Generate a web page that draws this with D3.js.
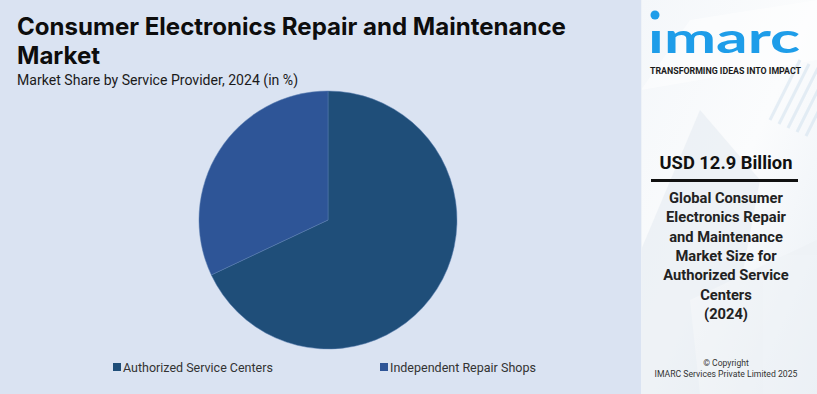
<!DOCTYPE html>
<html>
<head>
<meta charset="utf-8">
<script src="https://cdn.jsdelivr.net/npm/d3@7"></script>
<style>
html,body{margin:0;padding:0;background:#fff;}
svg{display:block;}
</style>
</head>
<body>
<svg id="chart" width="817" height="394"></svg>
<script>
const categories = ["Authorized Service Centers", "Independent Repair Shops"];
const values = [68, 32];
const colors = ["#1f4e79", "#2e5597"];
const titleLines = ["Consumer Electronics Repair and Maintenance", "Market"];
const subtitle = "Market Share by Service Provider, 2024 (in %)";
const panelValue = "USD 12.9 Billion";
const panelLines = ["Global Consumer", "Electronics Repair", "and Maintenance", "Market Size for", "Authorized Service", "Centers", "(2024)"];

const svg = d3.select("#chart");
const W = 817, H = 394;

// fit helper: scale font size so that a text reaches a target width
function fit(sel, target) {
  const node = sel.node();
  const fs = parseFloat(sel.attr("font-size"));
  const w = node.getComputedTextLength();
  if (w > 0) sel.attr("font-size", (fs * target / w).toFixed(2));
  return sel;
}

// main background
svg.append("rect").attr("x", 0).attr("y", 0).attr("width", 641).attr("height", H).attr("fill", "#dae3f2");

// right panel
const defs = svg.append("defs");
const g1 = defs.append("linearGradient").attr("id", "pg").attr("x1", "0").attr("y1", "0").attr("x2", "1").attr("y2", "1");
g1.append("stop").attr("offset", "0").attr("stop-color", "#f4f7fa");
g1.append("stop").attr("offset", "0.5").attr("stop-color", "#fbfcfd");
g1.append("stop").attr("offset", "1").attr("stop-color", "#e9eff5");
svg.append("rect").attr("x", 641).attr("y", 0).attr("width", W - 641).attr("height", H).attr("fill", "url(#pg)");
const deco = svg.append("g").attr("opacity", 0.5);
deco.append("path").attr("d", "M641,90 L690,20 L817,0 L817,60 Z").attr("fill", "#ffffff");
deco.append("path").attr("d", "M641,250 L700,110 L760,180 L720,394 L641,394 Z").attr("fill", "#e3eaf1");
deco.append("path").attr("d", "M690,300 L817,240 L817,394 L700,394 Z").attr("fill", "#edf1f5");
[0,1,2,3,4].forEach(i => {
  deco.append("line").attr("x1", 770 + i * 9).attr("y1", 120 + i * 4).attr("x2", 800 + i * 9).attr("y2", 60 + i * 4)
    .attr("stroke", "#cfe0ee").attr("stroke-width", 3);
});
svg.append("rect").attr("x", 641).attr("y", 0).attr("width", 1).attr("height", H).attr("fill", "#eef2f7");

// title
const t1 = svg.append("text").attr("x", 17).attr("y", 35)
  .attr("font-family", "Inter, Roboto, sans-serif").attr("font-weight", "bold")
  .attr("font-size", 23).attr("fill", "#0d0d0d").text(titleLines[0]);
fit(t1, 549);
svg.append("text").attr("x", 17).attr("y", 64)
  .attr("font-family", "Inter, Roboto, sans-serif").attr("font-weight", "bold")
  .attr("font-size", t1.attr("font-size")).attr("fill", "#0d0d0d").text(titleLines[1]);
const st = svg.append("text").attr("x", 17).attr("y", 85).attr("font-family", "Roboto, sans-serif")
  .attr("font-size", 14).attr("fill", "#1a1a1a").text(subtitle);
fit(st, 281);

// pie
const cx = 328, cy = 220, r = 129;
const pie = d3.pie().sort(null).value(d => d)(values);
const arc = d3.arc().innerRadius(0).outerRadius(r);
svg.append("g").attr("transform", `translate(${cx},${cy})`)
  .selectAll("path").data(pie).join("path")
  .attr("d", arc).attr("fill", (d, i) => colors[i])
  .attr("stroke", "#5b7fb0").attr("stroke-width", 0.5);

// legend
const legX = [113, 380];
const legW = [150, 146];
const leg = svg.append("g");
categories.forEach((c, i) => {
  leg.append("rect").attr("x", legX[i]).attr("y", 363).attr("width", 8).attr("height", 8).attr("fill", colors[i]);
  const lt = leg.append("text").attr("x", legX[i] + 10).attr("y", 372).attr("font-family", "Roboto, sans-serif")
    .attr("font-size", 13).attr("fill", "#333").text(c);
  fit(lt, legW[i]);
});

// logo
const pcx = 726;
svg.append("circle").attr("cx", 655).attr("cy", 15).attr("r", 4.5).attr("fill", "#1e9de9");
svg.append("text").attr("x", 648).attr("y", 53)
  .attr("font-family", "Lato, 'Open Sans', sans-serif").attr("font-weight", "bold").attr("font-size", 42)
  .attr("textLength", 152).attr("lengthAdjust", "spacingAndGlyphs")
  .attr("fill", "#1e9de9").text("ımarc");
svg.append("text").attr("x", 650).attr("y", 74)
  .attr("font-family", "Roboto, sans-serif").attr("font-weight", "bold").attr("font-size", 8.6)
  .attr("textLength", 151).attr("lengthAdjust", "spacingAndGlyphs")
  .attr("fill", "#1a1a1a").text("TRANSFORMING IDEAS INTO IMPACT");

// value
const pv = svg.append("text").attr("x", pcx).attr("y", 169).attr("text-anchor", "middle")
  .attr("font-family", "Roboto, sans-serif").attr("font-weight", "bold").attr("font-size", 17)
  .attr("fill", "#111").text(panelValue);
fit(pv, 133);
svg.append("rect").attr("x", 651).attr("y", 179).attr("width", 147).attr("height", 3).attr("fill", "#111");
const pl = svg.append("text").attr("text-anchor", "middle")
  .attr("font-family", "Roboto, sans-serif").attr("font-weight", "bold").attr("font-size", 14.7).attr("fill", "#222");
panelLines.forEach((t, i) => pl.append("tspan").attr("x", pcx).attr("y", 203 + i * 19.3).text(t));

// copyright
svg.append("text").attr("x", pcx).attr("y", 366).attr("text-anchor", "middle")
  .attr("font-family", "Roboto, sans-serif").attr("font-size", 8.6).attr("fill", "#333").text("© Copyright");
const cp = svg.append("text").attr("x", pcx).attr("y", 377).attr("text-anchor", "middle")
  .attr("font-family", "Roboto, sans-serif").attr("font-size", 8.6).attr("fill", "#333").text("IMARC Services Private Limited 2025");
fit(cp, 143);
</script>
</body>
</html>
